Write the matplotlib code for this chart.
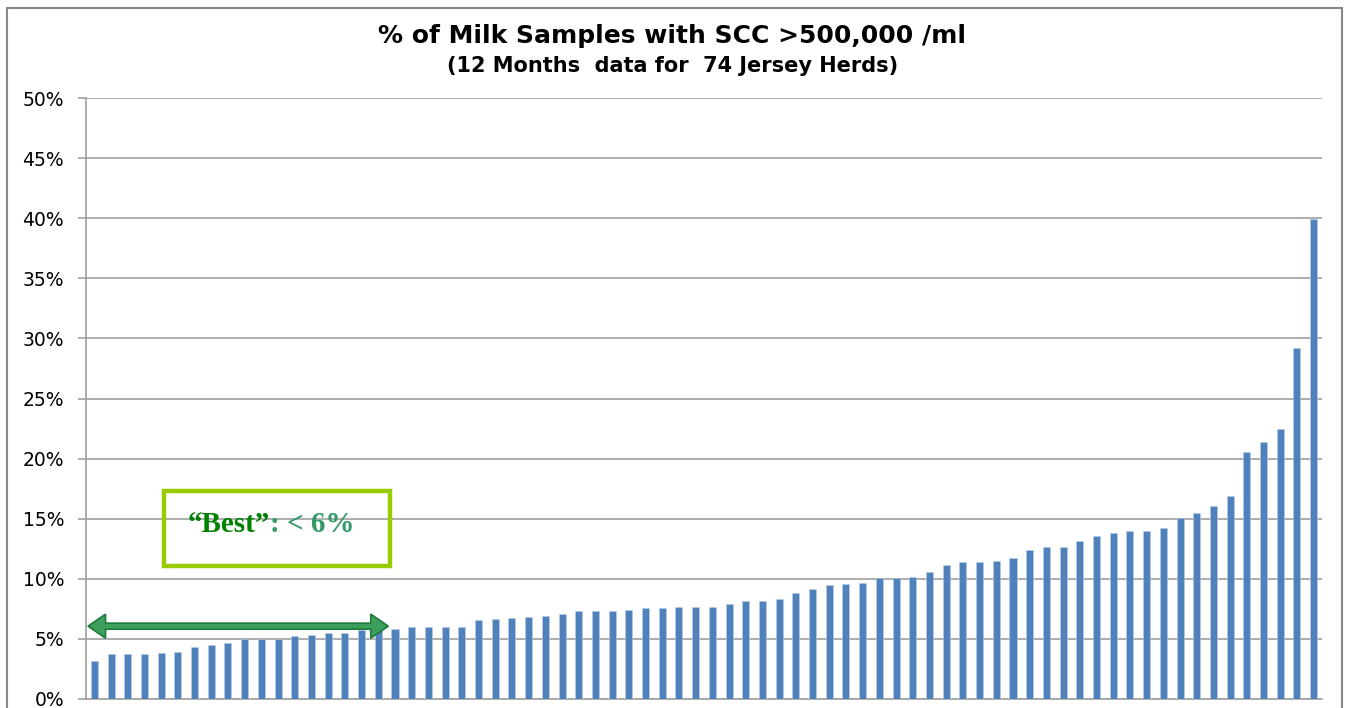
import matplotlib
matplotlib.use("Agg")
import matplotlib.pyplot as plt
from matplotlib.patches import Rectangle, Polygon
from matplotlib.ticker import FuncFormatter
import numpy as np

# % of samples with SCC > 500,000 /ml, one value per herd, sorted ascending
herd_values = [
    3.15, 3.75, 3.75, 3.75, 3.85, 3.95, 4.3, 4.5, 4.67, 4.97,
    4.97, 5.03, 5.2, 5.3, 5.47, 5.47, 5.75, 5.8, 5.83, 6.0,
    6.0, 6.0, 6.0, 6.56, 6.64, 6.72, 6.8, 6.89, 7.06, 7.33,
    7.33, 7.33, 7.42, 7.53, 7.53, 7.69, 7.69, 7.69, 7.89, 8.14,
    8.14, 8.3, 8.78, 9.14, 9.5, 9.56, 9.61, 10.08, 10.08, 10.17,
    10.58, 11.13, 11.41, 11.41, 11.49, 11.77, 12.4, 12.65, 12.65, 13.18,
    13.54, 13.78, 14.0, 14.0, 14.23, 15.06, 15.5, 16.05, 16.93, 20.56,
    21.36, 22.44, 29.22, 39.95,
]
herds = np.arange(1, len(herd_values) + 1)
y_ticks = [0, 5, 10, 15, 20, 25, 30, 35, 40, 45, 50]

title = "% of Milk Samples with SCC >500,000 /ml"
subtitle = "(12 Months  data for  74 Jersey Herds)"

fig = plt.figure(figsize=(13.45, 7.08), dpi=100)
ax = fig.add_axes([86 / 1345, 9 / 708, (1322 - 86) / 1345, 601 / 708])

ax.bar(herds, herd_values, width=0.42, color="#4F81BD",
       edgecolor="#B9CDE5", linewidth=0.4, zorder=3)

ax.set_xlim(0.5, len(herd_values) + 0.5)
ax.set_ylim(0, 50)
ax.set_yticks(y_ticks)
ax.yaxis.set_major_formatter(FuncFormatter(lambda v, p: f"{v:.0f}%"))
ax.set_xticks([])
ax.grid(axis="y", color="#A0A0A0", linewidth=1.2, zorder=0)
ax.tick_params(axis="y", length=5.8, width=1.2, color="#A0A0A0", pad=10,
               labelsize=13.5, labelcolor="black")
for side in ["top", "right"]:
    ax.spines[side].set_visible(False)
for side in ["left", "bottom"]:
    ax.spines[side].set_color("#A0A0A0")
    ax.spines[side].set_linewidth(1.2)
for lbl in ax.get_yticklabels():
    lbl.set_family("DejaVu Sans")

# chart border
fig.patches.append(Rectangle((7 / 1345, -0.1), 1335 / 1345, 1.1 - 8 / 708,
                             transform=fig.transFigure, fill=False,
                             edgecolor="#888888", linewidth=1.5))

fig.text(0.5, 1 - 43 / 708, title, ha="center", va="baseline",
         fontsize=18, fontweight="bold", family="DejaVu Sans")
fig.text(0.5, 1 - 72 / 708, subtitle, ha="center", va="baseline",
         fontsize=15, fontweight="bold", family="DejaVu Sans")

# "Best" annotation
ax.add_patch(Rectangle((5.17, 11.05), 13.54, 6.23, fill=False,
                       edgecolor="#99CC00", linewidth=3.2, zorder=5))
ax.text(11.5, 14.5, "\u201cBest\u201d", ha="right", va="center",
        fontsize=21, fontweight="bold", family="Liberation Serif",
        color="#008000", zorder=6)
ax.text(11.5, 14.5, ": < 6%", ha="left", va="center",
        fontsize=21, fontweight="bold", family="Liberation Serif",
        color="#339966", zorder=6)

# double-headed arrow spanning the "best" herds
x0, x1, ya = 0.62, 18.6, 6.06
hl, hw, sw = 1.05, 1.0, 0.25
arrow = Polygon([(x0, ya), (x0 + hl, ya + hw), (x0 + hl, ya + sw),
                 (x1 - hl, ya + sw), (x1 - hl, ya + hw), (x1, ya),
                 (x1 - hl, ya - hw), (x1 - hl, ya - sw), (x0 + hl, ya - sw),
                 (x0 + hl, ya - hw)], closed=True,
                facecolor="#3E9E5E", edgecolor="#1E7B3C", linewidth=1.2,
                zorder=6)
ax.add_patch(arrow)

fig.savefig("out.png", dpi=100)
